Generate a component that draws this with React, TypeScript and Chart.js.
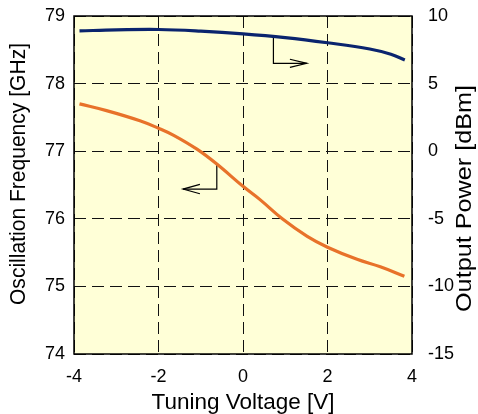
import React, { useEffect, useRef } from "react";
import { Chart, registerables } from "chart.js";

Chart.register(...registerables);

// Oscillation frequency (left axis, GHz) vs tuning voltage
const freqVoltage = [-3.87, -3.23, -2.44, -2, -1.64, -1.09, -0.62, 0, 0.41, 0.93, 1.52, 2, 2.7, 3.25, 3.82];
const freqValues = [77.7, 77.6, 77.45, 77.34, 77.235, 77.03, 76.81, 76.48, 76.28, 76.0, 75.74, 75.58, 75.4, 75.29, 75.15];

// Output power (right axis, dBm) vs tuning voltage
const powerVoltage = [-3.87, -3, -2, -1, 0, 1, 2, 3, 3.5, 3.83];
const powerValues = [8.9, 8.97, 9.0, 8.88, 8.68, 8.4, 8.02, 7.56, 7.17, 6.75];

// Axis ticks
const xTicks = [-4, -2, 0, 2, 4];
const leftTicks = [74, 75, 76, 77, 78, 79];
const rightTicks = [-15, -10, -5, 0, 5, 10];

// Axis titles
const xTitle = "Tuning Voltage [V]";
const leftTitle = "Oscillation Frequency [GHz]";
const rightTitle = "Output Power [dBm]";

// Annotation arrows (in data units): freq arrow points left, power arrow points right
const freqArrowX = [-0.62, -0.62, -1.42];
const freqArrowY = [76.81, 76.44, 76.44];
const freqHeadX = [-1.02, -1.42, -1.02];
const freqHeadY = [76.51, 76.44, 76.37];
const powerArrowX = [0.72, 0.72, 1.51];
const powerArrowY = [8.45, 6.5, 6.5];
const powerHeadX = [1.11, 1.51, 1.11];
const powerHeadY = [6.8, 6.5, 6.2];

const FONT = "Arial, 'Liberation Sans', Helvetica, sans-serif";
const zip = (xs: number[], ys: number[]) => xs.map((x, i) => ({ x, y: ys[i] }));

// draw text at given font size, stretched along its direction to `target` px length
function fitText(ctx: CanvasRenderingContext2D, text: string, size: number, target: number) {
  ctx.font = `${size}px ${FONT}`;
  const w = ctx.measureText(text).width;
  ctx.scale(target / w, 1);
  ctx.fillText(text, 0, 0);
}

const plotFrame = {
  id: "plotFrame",
  beforeDraw(chart: any) {
    const { ctx, chartArea: a } = chart;
    ctx.save();
    ctx.fillStyle = "rgb(255,255,215)";
    ctx.fillRect(a.left, a.top, a.right - a.left, a.bottom - a.top);
    ctx.restore();
  },
  afterDraw(chart: any) {
    const { ctx, chartArea: a } = chart;
    ctx.save();
    ctx.strokeStyle = "#000";
    ctx.lineWidth = 1.5;
    ctx.strokeRect(a.left, a.top, a.right - a.left, a.bottom - a.top);

    ctx.fillStyle = "#000";
    ctx.textAlign = "center";
    ctx.textBaseline = "alphabetic";
    // x title
    ctx.save();
    ctx.translate((a.left + a.right) / 2, 409);
    fitText(ctx, xTitle, 22.2, 183);
    ctx.restore();
    // y titles, both reading bottom-to-top
    ctx.save();
    ctx.translate(25, 174);
    ctx.rotate(-Math.PI / 2);
    fitText(ctx, leftTitle, 22, 262);
    ctx.restore();
    ctx.save();
    ctx.translate(470.5, 198.5);
    ctx.rotate(-Math.PI / 2);
    fitText(ctx, rightTitle, 22, 227);
    ctx.restore();
    ctx.restore();
  },
};

export default function App() {
  const ref = useRef<HTMLCanvasElement>(null);
  useEffect(() => {
    if (!ref.current) return;
    const arrowStyle = {
      borderColor: "#000",
      borderWidth: 1.2,
      pointRadius: 0,
      showLine: true,
      tension: 0,
      fill: false,
    };
    const noPadV = (s: any, w: number) => {
      s.width = w;
      s.paddingTop = 0;
      s.paddingBottom = 0;
    };
    const chart = new Chart(ref.current, {
      type: "scatter",
      data: {
        datasets: [
          {
            data: zip(freqVoltage, freqValues),
            yAxisID: "y",
            borderColor: "rgb(232,114,42)",
            borderWidth: 3.2,
            pointRadius: 0,
            showLine: true,
            tension: 0.4,
          },
          {
            data: zip(powerVoltage, powerValues),
            yAxisID: "y2",
            borderColor: "rgb(10,36,110)",
            borderWidth: 3.2,
            pointRadius: 0,
            showLine: true,
            tension: 0.4,
          },
          { data: zip(freqArrowX, freqArrowY), yAxisID: "y", ...arrowStyle },
          { data: zip(freqHeadX, freqHeadY), yAxisID: "y", ...arrowStyle },
          { data: zip(powerArrowX, powerArrowY), yAxisID: "y2", ...arrowStyle },
          { data: zip(powerHeadX, powerHeadY), yAxisID: "y2", ...arrowStyle },
        ] as any,
      },
      options: {
        animation: false,
        responsive: false,
        layout: { padding: { top: 16, left: 0, right: 0, bottom: 0 } },
        plugins: { legend: { display: false }, tooltip: { enabled: false } },
        scales: {
          x: {
            type: "linear",
            min: -4,
            max: 4,
            afterBuildTicks: (s: any) => {
              s.ticks = xTicks.map((v) => ({ value: v }));
            },
            afterFit: (s: any) => {
              s.height = 60;
              s.paddingLeft = 0;
              s.paddingRight = 0;
            },
            ticks: { color: "#000", font: { family: FONT, size: 18 }, padding: 12 },
            grid: { color: "#111", lineWidth: 1, drawTicks: false },
            border: { display: false, dash: [12, 6] },
          },
          y: {
            type: "linear",
            position: "left",
            min: 74,
            max: 79,
            afterBuildTicks: (s: any) => {
              s.ticks = leftTicks.map((v) => ({ value: v }));
            },
            afterFit: (s: any) => noPadV(s, 74),
            ticks: { color: "#000", font: { family: FONT, size: 18 }, padding: 9 },
            grid: { color: "#111", lineWidth: 1, drawTicks: false },
            border: { display: false, dash: [12, 6] },
          },
          y2: {
            type: "linear",
            position: "right",
            min: -15,
            max: 10,
            afterBuildTicks: (s: any) => {
              s.ticks = rightTicks.map((v) => ({ value: v }));
            },
            afterFit: (s: any) => noPadV(s, 66),
            ticks: { color: "#000", font: { family: FONT, size: 18 }, padding: 16 },
            grid: { display: false, drawTicks: false },
            border: { display: false },
          },
        },
      } as any,
      plugins: [plotFrame],
    });
    return () => chart.destroy();
  }, []);

  return (
    <div style={{ position: "fixed", left: 0, top: 0, width: 478, height: 414, background: "#fff" }}>
      <canvas ref={ref} width={478} height={414} style={{ width: 478, height: 414 }} />
    </div>
  );
}
